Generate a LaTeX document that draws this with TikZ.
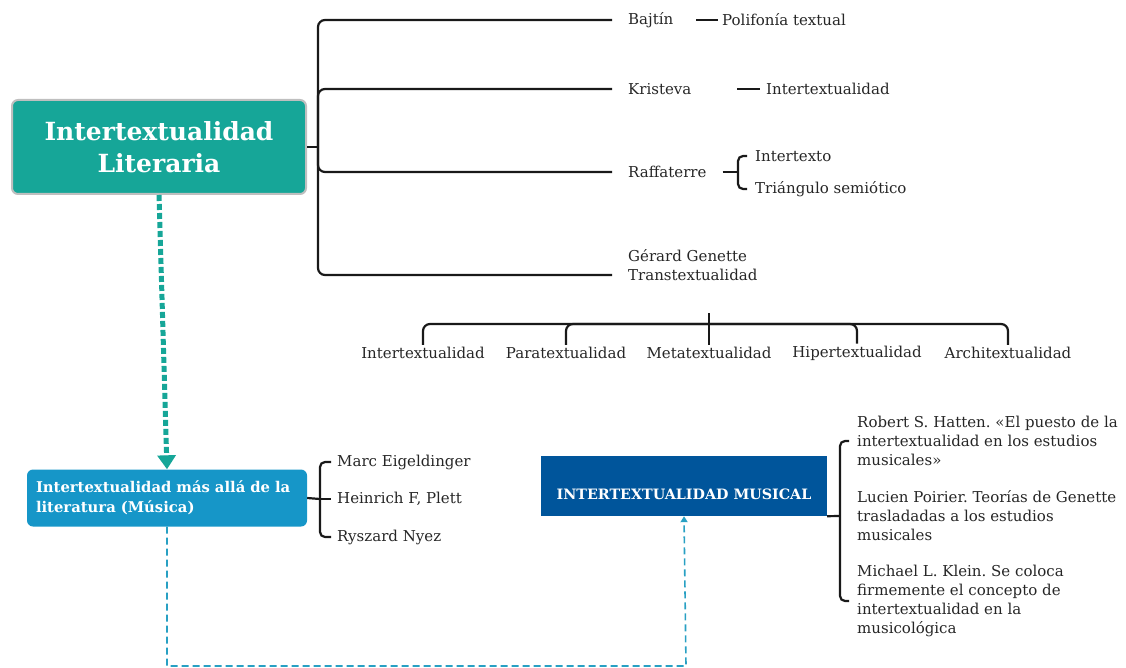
\documentclass[tikz,border=0pt]{standalone}
\usepackage{fontspec}
\setmainfont{DejaVu Serif}
\usetikzlibrary{arrows.meta}
\frenchspacing

\definecolor{tealbox}{RGB}{22,166,152}
\definecolor{bluebox}{RGB}{22,150,200}
\definecolor{darkbox}{RGB}{0,85,155}
\definecolor{dashblue}{RGB}{40,160,195}

\begin{document}
\begin{tikzpicture}[x=1pt,y=-1pt]
		\tikzset{lbl/.style = {anchor=west, inner sep=2pt, text=black!85, font=\fontsize{15}{19}\selectfont}}
		\tikzset{brace/.style = {line width=2.2pt, black!90, rounded corners=7}}
		\tikzset{box/.style = {text=white, inner sep=0pt}}

		\useasboundingbox (0,0) rectangle (1126,668);

		% main boxes
		\node[box, fill=tealbox, draw=black!25, line width=2pt, rounded corners=6,
			minimum width=294, minimum height=94, align=center,
			font=\bfseries\fontsize{25}{32}\selectfont] (LIT) at (159,147) {Intertextualidad\\Literaria};
		\node[box, fill=bluebox, rounded corners=6, minimum width=280, minimum height=57,
			align=left, text width=262, font=\bfseries\fontsize{14.8}{20}\selectfont] (MAS) at (167,498) {Intertextualidad más allá de la\\literatura (Música)};
		\node[box, fill=darkbox, minimum width=286, text height=43, text depth=17,
			font=\bfseries\fontsize{14.3}{16}\selectfont] (MUS) at (684,486) {INTERTEXTUALIDAD MUSICAL};

		% authors
		\node[lbl] (A_1) at (626,20) {Bajtín};
		\node[lbl] (A_2) at (626,89) {Kristeva};
		\node[lbl] (A_3) at (626,172) {Raffaterre};
		\node[lbl] (A_4) at (626,275) {Transtextualidad};
		\node[lbl] (A_5) at (626,256) {Gérard Genette};

		\node[lbl] (P_1) at (720,20) {Polifonía textual};
		\node[lbl] (P_2) at (764,89) {Intertextualidad};
		\node[lbl] (P_3) at (753,156) {Intertexto};
		\node[lbl] (P_4) at (753,189) {Triángulo semiótico};

		% transtextual types
		\node[lbl, anchor=center] (T_1) at (423,353) {Intertextualidad};
		\node[lbl, anchor=center] (T_2) at (566,353) {Paratextualidad};
		\node[lbl, anchor=center] (T_3) at (709,353) {Metatextualidad};
		\node[lbl, anchor=center] (T_4) at (857,353) {Hipertextualidad};
		\node[lbl, anchor=center] (T_5) at (1008,353) {Architextualidad};

		% music authors
		\node[lbl] (M_1) at (335,462) {Marc Eigeldinger};
		\node[lbl] (M_2) at (335,499) {Heinrich F, Plett};
		\node[lbl] (M_3) at (335,537) {Ryszard Nyez};

		\node[lbl, align=left] (H_1) at (855,441) {Robert S. Hatten. «El puesto de la\\intertextualidad en los estudios\\musicales»};
		\node[lbl, align=left] (H_2) at (855,516) {Lucien Poirier. Teorías de Genette\\trasladadas a los estudios\\musicales};
		\node[lbl, align=left] (H_3) at (855,601) {Michael L. Klein. Se coloca\\firmemente el concepto de\\intertextualidad en la\\musicológica};

		\coordinate (S_0) at (318,147);
		\coordinate (R_0) at (738,172);
		\coordinate (K_0) at (709,313);
		\coordinate (B_0) at (320,499);
		\coordinate (C_0) at (840,516);
		\coordinate (D_1) at (167,666);
		\coordinate (D_2) at (686,666);

		% big bracket
		\draw[brace] (LIT.east) -- (S_0);
		\draw[brace] ([xshift=-14]A_1.west) -| (S_0) |- ([xshift=-14]A_4.west);
		\draw[brace] (S_0) |- ([xshift=-14]A_2.west);
		\draw[brace] (S_0) |- ([xshift=-14]A_3.west);

		\draw[brace] ([xshift=-24]P_1.west) -- ([xshift=-2]P_1.west);
		\draw[brace] ([xshift=-27]P_2.west) -- ([xshift=-4]P_2.west);
		\draw[brace] ([xshift=14]A_3.east) -- (R_0);
		\draw[brace, rounded corners=5] ([xshift=-6]P_3.west) -| (R_0) |- ([xshift=-6]P_4.west);

		% bracket over the types
		\draw[brace] (T_1.north) |- (K_0 |- 0,324) -| (T_5.north);
		\draw[brace] (T_2.north) |- (K_0 |- 0,324);
		\draw[brace] (T_4.north) |- (K_0 |- 0,324);
		\draw[brace] (K_0) -- (T_3.north);

		% brackets of the music boxes
		\draw[brace] (MAS.east) -- (B_0);
		\draw[brace, rounded corners=5] ([xshift=-4]M_1.west) -| (B_0) |- ([xshift=-4]M_3.west);
		\draw[brace] (B_0) -- ([xshift=-4]M_2.west);

		\draw[brace] (MUS.south east) -- (C_0);
		\draw[brace, rounded corners=5] ([xshift=-6]H_1.west) -| (C_0) |- ([xshift=-6]H_3.west);

		% dashed arrows
		\draw[tealbox, line width=5pt, dash pattern=on 6pt off 3pt,
			-{Triangle[width=18pt,length=14pt]}] (LIT.south) -- (MAS.north);
		\draw[dashblue, line width=1.6pt, dash pattern=on 7pt off 4pt,
			-{Triangle[width=7pt,length=6pt]}] (MAS.south) -- (D_1) -- (D_2) -- (MUS.south);

\end{tikzpicture}
\end{document}
